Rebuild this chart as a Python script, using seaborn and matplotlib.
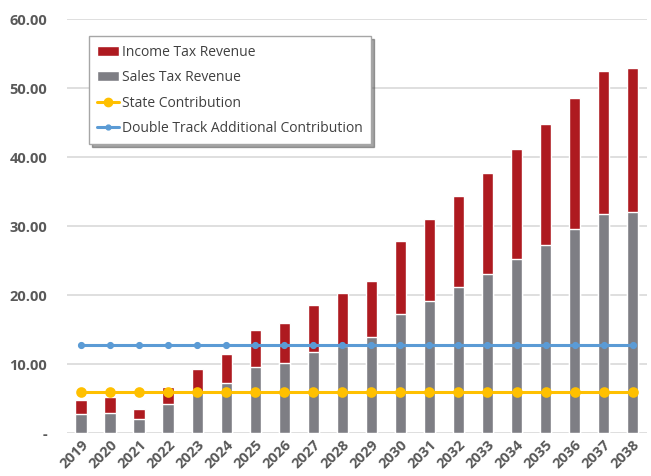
import numpy as np
import pandas as pd
import matplotlib.pyplot as plt
import seaborn as sns
from matplotlib.patches import Patch
from matplotlib.lines import Line2D
from matplotlib.ticker import FuncFormatter

years = [str(y) for y in range(2019, 2039)]
sales_tax = [2.7, 2.95, 2.0, 4.25, 5.9, 7.3, 9.5, 10.2, 11.8, 12.6,
             13.95, 17.25, 19.1, 21.1, 23.1, 25.2, 27.2, 29.5, 31.7, 32.1]
income_tax = [2.05, 2.25, 1.5, 2.35, 3.35, 4.2, 5.4, 5.8, 6.7, 7.7,
              8.15, 10.55, 11.85, 13.25, 14.6, 16.0, 17.6, 19.0, 20.7, 20.8]
state_contrib = [6.0] * 20
double_track = [12.75] * 20

RED = "#AE1A20"
GRAY = "#7E7E84"
YELLOW = "#FFC000"
BLUE = "#5B9BD5"

df = pd.DataFrame({
    "year": years,
    "sales": sales_tax,
    "income": income_tax,
    "state": state_contrib,
    "double": double_track,
})
df["total"] = df["sales"] + df["income"]

sns.set_style("white")
plt.rcParams["font.family"] = ["Open Sans", "DejaVu Sans"]

fig = plt.figure(figsize=(6.51, 4.76), dpi=100)
ax = fig.add_axes([0.1025, 0.0903, 0.8915, 0.8697])

# stacked bars: totals in red, sales tax in gray on top
sns.barplot(data=df, x="year", y="total", color=RED, width=0.4,
            saturation=1, ax=ax, zorder=2)
sns.barplot(data=df, x="year", y="sales", color=GRAY, width=0.4,
            saturation=1, ax=ax, zorder=2)

# contribution lines
sns.pointplot(data=df, x="year", y="state", color=YELLOW, markers="o",
              markersize=6, linewidth=2.2, ax=ax, zorder=3)
sns.pointplot(data=df, x="year", y="double", color=BLUE, markers="o",
              markersize=3.5, linewidth=2.2, ax=ax, zorder=3)

ax.set_xlim(-0.5, 19.5)
ax.set_ylim(0, 60)
ax.set_yticks(np.arange(0, 61, 10))
ax.yaxis.set_major_formatter(FuncFormatter(lambda v, p: "-" if v == 0 else f"{v:.2f}"))
ax.grid(axis="y", color="#D9D9D9", linewidth=1.2, zorder=0)
ax.set_axisbelow(True)
sns.despine(ax=ax, left=True, bottom=True)
ax.set_xlabel("")
ax.set_ylabel("")
ax.tick_params(axis="both", length=0, labelsize=10.5, labelcolor="#595959")
for lbl in ax.get_yticklabels():
    lbl.set_fontweight("bold")
plt.setp(ax.get_xticklabels(), rotation=45, ha="right", rotation_mode="anchor",
         fontweight="bold")
ax.tick_params(axis="y", pad=14)

handles = [
    Patch(facecolor=RED, label="Income Tax Revenue"),
    Patch(facecolor=GRAY, label="Sales Tax Revenue"),
    Line2D([], [], color=YELLOW, marker="o", markersize=6, linewidth=2.2,
           label="State Contribution"),
    Line2D([], [], color=BLUE, marker="o", markersize=3.5, linewidth=2.2,
           label="Double Track Additional Contribution"),
]
leg = ax.legend(handles=handles, loc="upper left", bbox_to_anchor=(0.038, 0.958),
                fancybox=False, shadow=True, edgecolor="#A6A6A6", framealpha=1,
                fontsize=10, labelcolor="#404040", handlelength=1.6,
                handletextpad=0.2, borderpad=0.6, labelspacing=0.75,
                borderaxespad=0)
leg.get_frame().set_linewidth(1.0)

fig.savefig("out.png", dpi=100)
